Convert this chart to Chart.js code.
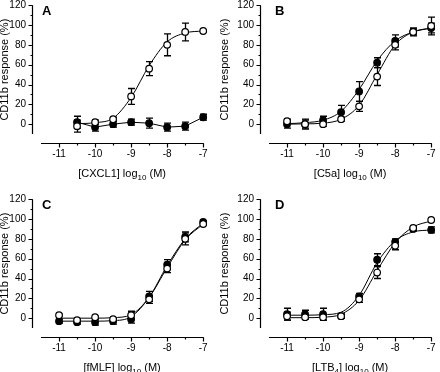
<!DOCTYPE html>
<html><head><meta charset="utf-8">
<script src="https://cdn.jsdelivr.net/npm/chart.js@4.4.1/dist/chart.umd.min.js"></script>
<style>
html,body{margin:0;padding:0;background:#fff;width:440px;height:372px;overflow:hidden;position:relative;}
canvas{position:absolute;}
</style></head><body>
<canvas id="cA" width="212" height="186" style="left:0px;top:0px"></canvas>
<canvas id="cB" width="222" height="186" style="left:218px;top:0px"></canvas>
<canvas id="cC" width="212" height="186" style="left:0px;top:194px"></canvas>
<canvas id="cD" width="222" height="186" style="left:218px;top:194px"></canvas>
<script>
// ---- data (log10 M doses, % CD11b response) ----
const doses = [-11, -10.5, -10, -9.5, -9, -8.5, -8, -7.5, -7];
const dosesA = [-10.5, -10, -9.5, -9, -8.5, -8, -7.5, -7];

// Panel A: CXCL1
const aOpen      = [-2, 2, 5, 28, 56, 80, 93, 94];
const aOpenErr   = [6, 2, 2, 8, 7, 11, 9, 1];
const aOpenFit   = [0.5, 1.5, 6, 27, 59, 83, 92, 94];
const aFilled    = [2, -3, 0, 2, 1, -3, -2, 7];
const aFilledErr = [6, 4, 3, 3, 5, 4, 4, 3];

// Panel B: C5a
const bFilled    = [0, 0, 4, 12, 33, 62, 84, 93, 97];
const bFilledErr = [4, 4, 4, 7, 10, 5, 6, 3, 5];
const bFilledFit = [0.5, 1.5, 4, 13, 35, 64, 84, 93, 97];
const bOpen      = [3, 0, 0, 5, 18, 48, 80, 93, 99];
const bOpenErr   = [2, 5, 2, 2, 5, 9, 5, 4, 9];
const bOpenFit   = [0, 0.3, 1, 5, 19, 50, 80, 93, 97];

// Panel C: fMLF
const cFilled    = [-3, -4, -4, -3, -1, 22, 54, 82, 97];
const cFilledErr = [2, 2, 3, 3, 4, 5, 5, 5, 1];
const cFilledFit = [-3, -3, -3, -2.5, 1.5, 21, 53, 80, 96];
const cOpen      = [3, -2, 1, -1, 3, 19, 50, 80, 95];
const cOpenErr   = [1, 1, 1, 1, 4, 4, 4, 6, 1];
const cOpenFit   = [0, 0, 0, 0.5, 3.5, 21, 51, 79, 95];

// Panel D: LTB4
const dFilled    = [4, 4, 4, 2, 22, 59, 77, 90, 89];
const dFilledErr = [6, 4, 6, 2, 3, 6, 3, 2, 3];
const dFilledFit = [3, 3, 3.5, 6, 23, 56, 78, 87, 89];
const dOpen      = [2, 1, 1, 2, 19, 46, 73, 91, 99];
const dOpenErr   = [4, 2, 3, 2, 3, 6, 4, 2, 1];
const dOpenFit   = [0.5, 0.5, 1, 4, 18, 48, 76, 92, 98];

// ticks
const xTicks = [-11, -10.5, -10, -9.5, -9, -8.5, -8, -7.5, -7];
const yTicks = [0, 10, 20, 30, 40, 50, 60, 70, 80, 90, 100, 110, 120];
const yTitle = 'CD11b response (%)';
const xTitleA = [['[CXCL1] log', 0], ['10', 1], [' (M)', 0]];
const xTitleB = [['[C5a] log', 0], ['10', 1], [' (M)', 0]];
const xTitleC = [['[fMLF] log', 0], ['10', 1], [' (M)', 0]];
const xTitleD = [['[LTB', 0], ['4', 1], ['] log', 0], ['10', 1], [' (M)', 0]];

// ---- drawing ----
const FONT = "'Liberation Sans', Arial, Helvetica, sans-serif";
const X_MIN = -11.75, X_MAX = -6.9, Y_MIN = -20, Y_MAX = 120;

const prismPlugin = {
  id: 'prism',
  beforeDatasetsDraw(chart) {
    const ctx = chart.ctx, xs = chart.scales.x, ys = chart.scales.y;
    ctx.save();
    ctx.strokeStyle = '#000';
    ctx.lineWidth = 1.3;
    chart.data.datasets.forEach(ds => {
      if (!ds.err) return;
      ds.data.forEach((p, i) => {
        const e = ds.err[i];
        if (!e) return;
        const x = Math.round(xs.getPixelForValue(p.x)) + 0.5;
        const y1 = ys.getPixelForValue(p.y + e), y2 = ys.getPixelForValue(p.y - e);
        ctx.beginPath();
        ctx.moveTo(x, y1); ctx.lineTo(x, y2);
        ctx.moveTo(x - 3.5, y1); ctx.lineTo(x + 3.5, y1);
        ctx.moveTo(x - 3.5, y2); ctx.lineTo(x + 3.5, y2);
        ctx.stroke();
      });
    });
    ctx.restore();
  },
  afterDraw(chart, args, o) {
    const ctx = chart.ctx, xs = chart.scales.x, ys = chart.scales.y;
    const p = chart.options.plugins.prism;
    ctx.save();
    ctx.strokeStyle = '#000';
    ctx.fillStyle = '#000';
    ctx.lineWidth = 1.2;
    // y axis
    const xa = Math.round(xs.getPixelForValue(X_MIN)) + 0.5;
    ctx.beginPath();
    ctx.moveTo(xa, ys.getPixelForValue(120));
    ctx.lineTo(xa, ys.getPixelForValue(-10));
    ys.ticks.forEach(t => {
      const y = Math.round(ys.getPixelForValue(t.value)) + 0.5;
      const len = t.value % 20 === 0 ? 4 : 2;
      ctx.moveTo(xa - len, y); ctx.lineTo(xa, y);
    });
    // x axis
    const ya = Math.round(ys.getPixelForValue(Y_MIN)) - 0.5;
    ctx.moveTo(xs.getPixelForValue(-11.5), ya);
    ctx.lineTo(xs.getPixelForValue(-7) + 0.6, ya);
    xs.ticks.forEach(t => {
      const x = Math.round(xs.getPixelForValue(t.value)) + 0.5;
      const len = Number.isInteger(t.value) ? 4 : 2;
      ctx.moveTo(x, ya); ctx.lineTo(x, ya + len);
    });
    ctx.stroke();

    // panel letter
    ctx.font = 'bold 13px ' + FONT;
    ctx.textAlign = 'left';
    ctx.textBaseline = 'alphabetic';
    ctx.fillText(p.letter, chart.chartArea.left + p.letterDx, ys.getPixelForValue(120) + 10);

    // y title
    ctx.save();
    ctx.translate(chart.chartArea.left - p.yTitleDx, ys.getPixelForValue(55));
    ctx.rotate(-Math.PI / 2);
    ctx.font = '11px ' + FONT;
    ctx.textAlign = 'center';
    ctx.textBaseline = 'middle';
    ctx.fillText(yTitle, 0, 0);
    ctx.restore();

    // x title with subscripts
    const parts = p.xTitle;
    let total = 0;
    const widths = parts.map(([t, sub]) => {
      ctx.font = (sub ? '8px ' : '11px ') + FONT;
      const w = ctx.measureText(t).width;
      total += w;
      return w;
    });
    let cx = xs.getPixelForValue(-9.25) - total / 2;
    const by = ys.getPixelForValue(Y_MIN) + 33;
    ctx.textAlign = 'left';
    ctx.textBaseline = 'alphabetic';
    parts.forEach(([t, sub], i) => {
      ctx.font = (sub ? '8px ' : '11px ') + FONT;
      ctx.fillText(t, cx, sub ? by + 3 : by);
      cx += widths[i];
    });
    ctx.restore();
  }
};

function series(xs, ys) { return xs.map((x, i) => ({ x: x, y: ys[i] })); }

function panel(id, opts) {
  const datasets = [];
  opts.series.forEach(s => {
    datasets.push({
      data: series(s.x, s.fit), showLine: true, borderColor: '#000', borderWidth: 1,
      pointRadius: 0, fill: false, tension: 0,
      cubicInterpolationMode: s.straight ? 'default' : 'monotone', clip: false, order: 3
    });
  });
  opts.series.forEach(s => {
    datasets.push({
      data: series(s.x, s.y), err: s.err, showLine: false,
      pointRadius: 3.3, pointBorderWidth: 1.2, pointStyle: 'circle',
      pointBackgroundColor: s.filled ? '#000' : '#fff', pointBorderColor: '#000',
      clip: false, order: s.filled ? 2 : 1
    });
  });
  new Chart(document.getElementById(id), {
    type: 'scatter',
    data: { datasets },
    plugins: [prismPlugin],
    options: {
      responsive: false, animation: false, events: [],
      layout: { padding: { top: 4, left: 0, right: 0, bottom: 0 } },
      plugins: {
        legend: { display: false }, tooltip: { enabled: false },
        prism: { letter: opts.letter, letterDx: opts.letterDx, yTitleDx: opts.yTitleDx, xTitle: opts.xTitle }
      },
      scales: {
        x: {
          type: 'linear', min: X_MIN, max: X_MAX,
          afterBuildTicks: sc => { sc.ticks = xTicks.map(v => ({ value: v })); },
          afterFit: sc => { sc.height = 42; sc.paddingLeft = 0; sc.paddingRight = 0; },
          grid: { display: false, drawTicks: false }, border: { display: false },
          ticks: {
            autoSkip: false, maxRotation: 0, padding: 4, color: '#000',
            font: { family: FONT, size: 10 },
            callback: v => Number.isInteger(v) ? String(v) : ''
          }
        },
        y: {
          type: 'linear', min: Y_MIN, max: Y_MAX,
          afterBuildTicks: sc => { sc.ticks = yTicks.map(v => ({ value: v })); },
          afterFit: sc => { sc.width = opts.yWidth; sc.paddingTop = 0; sc.paddingBottom = 0; },
          grid: { display: false, drawTicks: false }, border: { display: false },
          ticks: {
            autoSkip: false, padding: 6, color: '#000',
            font: { family: FONT, size: 10 },
            callback: v => v % 20 === 0 ? String(v) : ''
          }
        }
      }
    }
  });
}

panel('cA', { letter: 'A', letterDx: 10, yTitleDx: 27, yWidth: 32, xTitle: xTitleA, series: [
  { x: dosesA, y: aFilled, err: aFilledErr, fit: aFilled, filled: true, straight: true },
  { x: dosesA, y: aOpen, err: aOpenErr, fit: aOpenFit, filled: false }
]});
panel('cB', { letter: 'B', letterDx: 15, yTitleDx: 35, yWidth: 42, xTitle: xTitleB, series: [
  { x: doses, y: bFilled, err: bFilledErr, fit: bFilledFit, filled: true },
  { x: doses, y: bOpen, err: bOpenErr, fit: bOpenFit, filled: false }
]});
panel('cC', { letter: 'C', letterDx: 10, yTitleDx: 27, yWidth: 32, xTitle: xTitleC, series: [
  { x: doses, y: cFilled, err: cFilledErr, fit: cFilledFit, filled: true },
  { x: doses, y: cOpen, err: cOpenErr, fit: cOpenFit, filled: false }
]});
panel('cD', { letter: 'D', letterDx: 15, yTitleDx: 35, yWidth: 42, xTitle: xTitleD, series: [
  { x: doses, y: dFilled, err: dFilledErr, fit: dFilledFit, filled: true },
  { x: doses, y: dOpen, err: dOpenErr, fit: dOpenFit, filled: false }
]});
</script>
</body></html>
